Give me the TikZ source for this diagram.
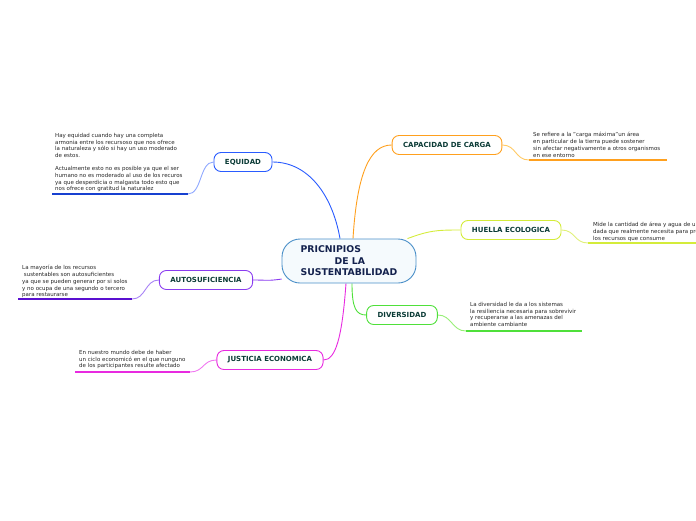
\documentclass[tikz,border=0pt]{standalone}
\usepackage{fontspec}
\setmainfont{DejaVu Sans}
\usetikzlibrary{positioning,backgrounds}

\definecolor{txtgreen}{HTML}{0B3B36}
\definecolor{txtnavy}{HTML}{13214D}
\definecolor{cenline}{HTML}{4A8FC8}
\definecolor{cenfill}{HTML}{F5FAFD}
\definecolor{equcol}{HTML}{2A5CFF}
\definecolor{equlight}{HTML}{8FA8FF}
\definecolor{equdark}{HTML}{1740D0}
\definecolor{capcol}{HTML}{FFA01E}
\definecolor{caplight}{HTML}{FFCA66}
\definecolor{huecol}{HTML}{D4EC3A}
\definecolor{huelight}{HTML}{E0F07A}
\definecolor{autcol}{HTML}{8A3CF0}
\definecolor{autlight}{HTML}{A883F5}
\definecolor{autdark}{HTML}{5A10D0}
\definecolor{divcol}{HTML}{4FE03A}
\definecolor{divlight}{HTML}{98EE78}
\definecolor{jusdcol}{HTML}{E82AE0}
\definecolor{juslight}{HTML}{F078F0}

\begin{document}
\begin{tikzpicture}[x=1pt,y=-1pt,
    topic/.style={draw,line width=0.9pt,rounded corners=7pt,fill=white,
        minimum height=19pt,inner xsep=11pt,inner ysep=0pt,
        font=\fontsize{7}{8}\selectfont\bfseries,text=txtgreen},
    note/.style={anchor=north west,inner sep=0pt,align=left,
        font=\fontsize{5.5}{6.8}\selectfont,text=black!85},
    link/.style={line width=0.9pt},
    ul/.style={line width=1.4pt}]

    \useasboundingbox (0,0) rectangle (696,520);
    \clip (0,0) rectangle (696,520);

    % central topic
    \node[draw=cenline,fill=cenfill,line width=0.9pt,rounded corners=18pt,
        minimum width=134pt,minimum height=44pt,align=left,text=txtnavy,
        font=\fontsize{9.3}{11.5}\selectfont\bfseries] (cen) at (349,261)
        {PRICNIPIOS\\\hspace*{34pt}DE LA\\SUSTENTABILIDAD};

    % main topics
    \node[topic,draw=equcol] (equ) at (243,162) {EQUIDAD};
    \node[topic,draw=capcol] (cap) at (447,145) {CAPACIDAD DE CARGA};
    \node[topic,draw=huecol] (hue) at (511,230) {HUELLA ECOLOGICA};
    \node[topic,draw=autcol] (aut) at (206,280) {AUTOSUFICIENCIA};
    \node[topic,draw=divcol] (div) at (402,315) {DIVERSIDAD};
    \node[topic,draw=jusdcol] (jus) at (270,360) {JUSTICIA ECONOMICA};

    % notes
    \node[note] (equ-note) at (55,133) {Hay equidad cuando hay una completa\\
        armonia entre los recursoso que nos ofrece\\
        la naturaleza y sólo si hay un uso moderado\\
        de estos.\\[6pt]
        Actualmente esto no es posible ya que el ser\\
        humano no es moderado al uso de los recuros\\
        ya que desperdicia o malgasta todo esto que\\
        nos ofrece con gratitud la naturalez};
    \node[note] (cap-note) at (533,132) {Se refiere a la "carga máxima"un área\\
        en particular de la tierra puede sostener\\
        sin afectar negativamente a otros organismos\\
        en ese entorno};
    \node[note] (hue-note) at (593,222) {Mide la cantidad de área y agua de una población\\
        dada que realmente necesita para producir\\
        los recursos que consume};
    \node[note] (aut-note) at (22,265) {La mayoría de los recursos\\
        \ sustentables son autosuficientes\\
        ya que se pueden generar por si solos\\
        y no ocupa de una segundo o tercero\\
        para restaurarse};
    \node[note] (div-note) at (470,302) {La diversidad le da a los sistemas\\
        la resiliencia necesaria para sobrevivir\\
        y recuperarse a las amenazas del\\
        ambiente cambiante};
    \node[note] (jus-note) at (79,350) {En nuestro mundo debe de haber\\
        un ciclo economicó en el que nunguno\\
        de los participantes resulte afectado};

    % underline ends
    \coordinate (equ-a) at (188,194); \coordinate (equ-b) at (52,194);
    \coordinate (cap-a) at (529,160); \coordinate (cap-b) at (667,160);
    \coordinate (hue-a) at (588,243); \coordinate (hue-b) at (700,243);
    \coordinate (aut-a) at (132,299); \coordinate (aut-b) at (18,299);
    \coordinate (div-a) at (466,331); \coordinate (div-b) at (582,331);
    \coordinate (jus-a) at (190,372); \coordinate (jus-b) at (75,372);

    \begin{scope}[on background layer]
        % center to topics
        \draw[link,equcol] ([xshift=-9pt]cen.north) .. controls +(-8,-45) and +(35,0) .. (equ.east);
        \draw[link,capcol] ([xshift=4pt]cen.north) .. controls +(4,-65) and +(-22,0) .. (cap.west);
        \draw[link,huecol] (cen.21) .. controls +(22,-8) and +(-25,0) .. (hue.west);
        \draw[link,autcol] (cen.195) .. controls +(-15,2) and +(15,0) .. (aut.east);
        \draw[link,divcol] ([xshift=3pt]cen.south) .. controls +(0,25) and +(-10,0) .. (div.west);
        \draw[link,jusdcol] ([xshift=-3pt]cen.south) .. controls +(-4,55) and +(12,0) .. (jus.east);

        % topics to notes
        \draw[link,equlight] (equ.west) .. controls +(-14,0) and +(14,0) .. (equ-a);
        \draw[link,caplight] (cap.east) .. controls +(14,0) and +(-14,0) .. (cap-a);
        \draw[link,huelight] (hue.east) .. controls +(14,0) and +(-14,0) .. (hue-a);
        \draw[link,autlight] (aut.west) .. controls +(-14,0) and +(14,0) .. (aut-a);
        \draw[link,divlight] (div.east) .. controls +(14,0) and +(-14,0) .. (div-a);
        \draw[link,juslight] (jus.west) .. controls +(-14,0) and +(14,0) .. (jus-a);
    \end{scope}

    % underlines
    \draw[ul,equdark] (equ-a) -- (equ-b);
    \draw[ul,capcol] (cap-a) -- (cap-b);
    \draw[ul,huecol] (hue-a) -- (hue-b);
    \draw[ul,autdark] (aut-a) -- (aut-b);
    \draw[ul,divcol] (div-a) -- (div-b);
    \draw[ul,jusdcol] (jus-a) -- (jus-b);

\end{tikzpicture}
\end{document}
